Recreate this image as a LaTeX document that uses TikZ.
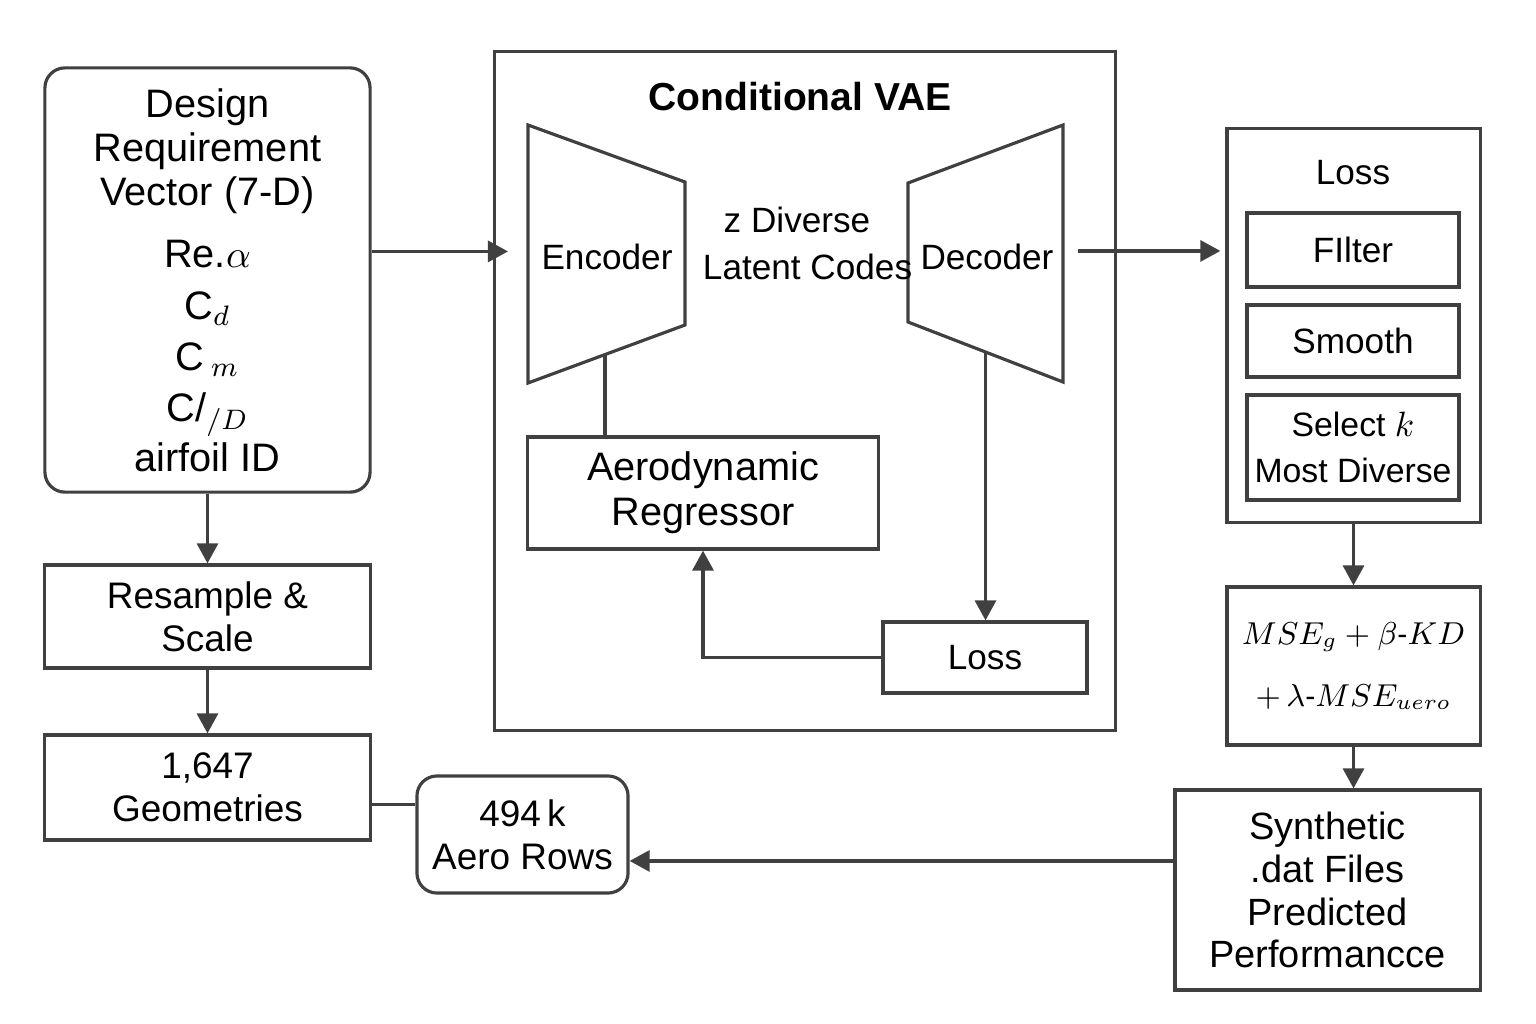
\documentclass[tikz,border=0pt]{standalone}
\usepackage{fontspec}
\setmainfont{Liberation Sans}
\usepackage{tikz}
\usetikzlibrary{calc, arrows.meta, positioning}
\definecolor{linegray}{HTML}{404040}

\begin{document}
\begin{tikzpicture}[x=0.01cm, y=-0.01cm, line width=0.9pt,
        ln/.style={draw=linegray, line width=0.9pt},
        arr/.style={ln, arrows={-Triangle[length=2mm, width=2.1mm]}},
        box/.style={draw=linegray, line width=0.9pt, align=center, inner sep=0pt,
            font=\fontsize{10.5}{12.3}\selectfont},
        rbox/.style={box, rounded corners=2mm},
        txt/.style={align=center, inner sep=0pt, font=\fontsize{10}{13.4}\selectfont}]
        \useasboundingbox (0, 0) rectangle (1536, 1024);
        % input side
        \node [rbox, minimum width=3.25cm, minimum height=4.24cm,
            font=\fontsize{11.3}{12.6}\selectfont] (design) at (207.5, 280)
            {Design\\Requirement\\Vector (7-D)\\[5pt]
             Re.$\alpha$\\[2pt] C$_d$\\[2pt] C\,$_m$\\[2pt] C/$_{/D}$\\[1.5pt] airfoil ID};
        \node [box, minimum width=3.25cm, minimum height=1.03cm] (resample) at (207.5, 616.5)
            {Resample \&\\Scale};
        \node [box, minimum width=3.25cm, minimum height=1.05cm] (geom) at (207.5, 787.5)
            {1,647\\Geometries};
        \node [rbox, minimum width=2.11cm, minimum height=1.17cm] (rows) at (522.5, 834.5)
            {494\,k\\Aero Rows};
        % conditional VAE
        \node [box, minimum width=6.2cm, minimum height=6.78cm] (vae) at (805, 391) {};
        \node [txt, font=\bfseries\fontsize{11.1}{13}\selectfont] (title) at (800, 97) {Conditional VAE};
        \coordinate (e1) at (528, 125);
        \coordinate (e2) at (685, 182);
        \coordinate (e3) at (685, 325);
        \coordinate (e4) at (528, 383);
        \coordinate (d1) at (908, 183);
        \coordinate (d2) at (1063, 125);
        \coordinate (d3) at (1063, 382);
        \coordinate (d4) at (908, 322);
        \path [ln] (e1) -- (e2) -- (e3) -- (e4) -- cycle;
        \path [ln] (d1) -- (d2) -- (d3) -- (d4) -- cycle;
        \node [txt] (enc) at (607, 257) {Encoder};
        \node [txt] (dec) at (987, 257) {Decoder};
        \node [txt] (latent) at (797, 243) {z Diverse\\\hspace*{0.6em}Latent Codes};
        \coordinate (encfoot) at ($(e4)!0.49!(e3)$);
        \coordinate (decfoot) at ($(d4)!0.5!(d3)$);
        \coordinate (encin) at ($(e1)!0.49!(e4)$);
        \coordinate (decout) at ($(d2)!0.49!(d3)$);
        \node [box, minimum width=3.5cm, minimum height=1.12cm,
            font=\fontsize{11.3}{12.8}\selectfont] (regr) at (703, 493) {Aerodynamic\\Regressor};
        \node [box, minimum width=2.04cm, minimum height=0.71cm,
            font=\fontsize{10}{12}\selectfont] (loss) at (985, 657.5) {Loss};
        \draw [ln] (encfoot) -- (encfoot |- regr.north);
        \draw [arr] (decfoot) -- (decfoot |- loss.north);
        \draw [arr] (loss.west) -| (regr.south);
        % post-processing
        \node [box, minimum width=2.53cm, minimum height=3.93cm] (post) at (1353.5, 325.5) {};
        \node [txt] (posttitle) at (1353, 173) {Loss};
        \node [box, minimum width=2.12cm, minimum height=0.74cm,
            font=\fontsize{10}{12}\selectfont] (filter) at (1353, 250) {FIlter};
        \node [box, minimum width=2.12cm, minimum height=0.72cm,
            font=\fontsize{10}{12}\selectfont] (smooth) at (1353, 341) {Smooth};
        \node [box, minimum width=2.12cm, minimum height=1.05cm,
            font=\fontsize{9.6}{13}\selectfont] (select) at (1353, 447.5) {Select $k$\\Most Diverse};
        \node [box, minimum width=2.53cm, minimum height=1.58cm,
            font=\fontsize{8.6}{17.6}\selectfont] (formula) at (1353.5, 666)
            {$MSE_g + \beta\mbox{-}KD$\\$+\,\lambda\mbox{-}MSE_{uero}$};
        \node [box, minimum width=3.05cm, minimum height=2.0cm,
            font=\fontsize{10.8}{12.2}\selectfont] (synth) at (1327.5, 890)
            {Synthetic\\.dat Files\\Predicted\\Performancce};
        % connectors
        \draw [arr] (design.south) -- (resample.north);
        \draw [arr] (resample.south) -- (geom.north);
        \draw [arr, shorten >=2mm] (encin -| design.east) -- (encin);
        \draw [arr, shorten <=1.5mm, shorten >=0.5mm] (decout) -- (decout -| post.west);
        \draw [arr] (post.south) -- (formula.north);
        \draw [arr] (formula.south) -- (formula.south |- synth.north);
        \coordinate (rowsin) at ($(rows.south east)!0.28!(rows.north east)$);
        \coordinate (rowslink) at ($(rows.south west)!0.75!(rows.north west)$);
        \draw [arr] (rowsin -| synth.west) -- (rowsin);
        \draw [ln] (rowslink -| geom.east) -- (rowslink);
    \end{tikzpicture}
\end{document}
